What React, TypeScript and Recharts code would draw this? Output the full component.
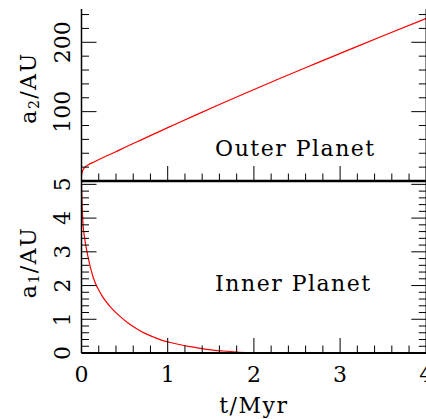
import React from 'react';
import { LineChart, Line, XAxis, YAxis, ReferenceDot } from 'recharts';

const FONT = '"DejaVu Serif", serif';

// Outer planet semi-major axis a2 (AU) vs time (Myr)
const outerTime = [0, 0.003, 0.01, 0.02, 0.037, 0.075, 0.15, 0.27, 0.385, 0.52, 0.64, 0.73, 0.83, 0.92, 1.02, 1.12, 1.33, 1.6, 1.9, 2.3, 2.7, 3.1, 3.5, 4.0];
const outerA = [8, 10.5, 13.5, 16.5, 19.4, 23, 27.8, 35, 41.4, 49.5, 56.3, 61.5, 67.2, 72.3, 78, 83.6, 95.3, 110.2, 126.5, 147.8, 168.5, 189, 209.5, 234.5];

// Inner planet semi-major axis a1 (AU) vs time (Myr)
const innerTime = [0, 0.004, 0.01, 0.017, 0.037, 0.075, 0.133, 0.23, 0.345, 0.44, 0.54, 0.64, 0.73, 0.83, 0.92, 1.02, 1.12, 1.26, 1.33, 1.45, 1.64, 1.8, 1.95, 2.2, 2.5, 3.0, 3.5, 4.0];
const innerA = [5.0, 4.6, 4.2, 3.85, 3.4, 2.86, 2.26, 1.73, 1.34, 1.1, 0.89, 0.72, 0.59, 0.48, 0.39, 0.32, 0.26, 0.19, 0.16, 0.11, 0.06, 0.03, 0.015, 0.005, 0.001, 0, 0, 0];

// Axes
const xDomain = [0, 4];
const xTicks = [0, 0.2, 0.4, 0.6, 0.8, 1, 1.2, 1.4, 1.6, 1.8, 2, 2.2, 2.4, 2.6, 2.8, 3, 3.2, 3.4, 3.6, 3.8, 4];
const xMajorTicks = [0, 1, 2, 3, 4];
const xTickLabels = ['0', '1', '2', '3', '4'];

const outerDomain = [0, 248];
const outerYTicks = [0, 20, 40, 60, 80, 100, 120, 140, 160, 180, 200, 220, 240];
const outerYMajor = [100, 200];
const outerYLabels = ['100', '200'];

const innerDomain = [0, 5.1];
const innerYTicks = [0, 0.2, 0.4, 0.6, 0.8, 1, 1.2, 1.4, 1.6, 1.8, 2, 2.2, 2.4, 2.6, 2.8, 3, 3.2, 3.4, 3.6, 3.8, 4, 4.2, 4.4, 4.6, 4.8, 5];
const innerYMajor = [0, 1, 2, 3, 4, 5];
const innerYLabels = ['0', '1', '2', '3', '4', '5'];

// Annotations (data coordinates)
const outerNote = { t: 1.55, a: 36.5, text: 'Outer Planet' };
const innerNote = { t: 1.55, a: 1.85, text: 'Inner Planet' };

const outerRows = outerTime.map((t, i) => ({ t, a: outerA[i] }));
const innerRows = innerTime.map((t, i) => ({ t, a: innerA[i] }));

const W = 440;
const LEFT_W = 81.5;
const RIGHT_W = 13.7;
const MAJOR_LEN = 15;
const MINOR_LEN = 7.5;

const findIdx = (v: number, majors: number[]) => majors.findIndex((m) => Math.abs(m - v) < 1e-6);

function xTickFactory(inward: number, labels: string[] | null) {
  return (props: any) => {
    const { x, y, payload } = props;
    const v = Number(payload.value);
    const idx = findIdx(v, xMajorTicks);
    const len = idx >= 0 ? MAJOR_LEN : MINOR_LEN;
    return (
      <g>
        <line x1={x} x2={x} y1={y} y2={y + inward * len} stroke="#000" strokeWidth={1} />
        {labels && idx >= 0 ? (
          <text x={x} y={y + 29} textAnchor="middle" fontFamily={FONT} fontSize={22} fill="#000">
            {labels[idx]}
          </text>
        ) : null}
      </g>
    );
  };
}

function yTickFactory(inward: number, majors: number[], labels: string[] | null) {
  return (props: any) => {
    const { x, y, payload } = props;
    const v = Number(payload.value);
    const idx = findIdx(v, majors);
    const len = idx >= 0 ? MAJOR_LEN : MINOR_LEN;
    const lx = x - 11.5;
    return (
      <g>
        <line x1={x} x2={x + inward * len} y1={y} y2={y} stroke="#000" strokeWidth={1} />
        {labels && idx >= 0 ? (
          <text
            x={lx}
            y={y}
            transform={`rotate(-90 ${lx} ${y})`}
            textAnchor="middle"
            fontFamily={FONT}
            fontSize={22}
            fill="#000"
          >
            {labels[idx]}
          </text>
        ) : null}
      </g>
    );
  };
}

function yTitle(sub: string, offset: number) {
  return (props: any) => {
    const vb = props.viewBox || { x: 0, y: 0, width: 0, height: 0 };
    const cx = 36;
    const cy = vb.y + vb.height / 2 + offset;
    return (
      <text
        x={cx}
        y={cy}
        transform={`rotate(-90 ${cx} ${cy})`}
        textAnchor="middle"
        fontFamily={FONT}
        fontSize={22}
        letterSpacing={1.5}
        fill="#000"
      >
        a<tspan fontSize={14} dy={3}>{sub}</tspan>
        <tspan dy={-3}>/AU</tspan>
      </text>
    );
  };
}

const xTitle = (props: any) => {
  const vb = props.viewBox || { x: 0, y: 0, width: 0, height: 0 };
  return (
    <text
      x={vb.x + vb.width / 2}
      y={vb.y + 59.5}
      textAnchor="middle"
      fontFamily={FONT}
      fontSize={22}
      letterSpacing={1.5}
      fill="#000"
    >
      t/Myr
    </text>
  );
};

const noteLabel = (text: string) => (props: any) => {
  const vb = props.viewBox || { x: 0, y: 0 };
  return (
    <text x={vb.x} y={vb.y} textAnchor="start" fontFamily={FONT} fontSize={22} letterSpacing={1.5} fill="#000">
      {text}
    </text>
  );
};

export default function App() {
  return (
    <div
      style={{
        position: 'fixed',
        left: 0,
        top: 0,
        width: 426,
        height: 419,
        overflow: 'hidden',
        background: '#fff',
      }}
    >
      <div style={{ position: 'absolute', left: 0, top: 0 }}>
        <LineChart width={W} height={200} data={outerRows} margin={{ top: 9, right: 0, bottom: 0, left: 0 }}>
          <XAxis
            xAxisId="bottom"
            dataKey="t"
            type="number"
            domain={xDomain}
            ticks={xTicks}
            interval={0}
            height={19}
            tickSize={0}
            tickMargin={0}
            tickLine={false}
            axisLine={{ stroke: '#000', strokeWidth: 2.5 }}
            tick={xTickFactory(-1, null)}
            allowDataOverflow
          />
          <XAxis
            xAxisId="top"
            orientation="top"
            dataKey="t"
            type="number"
            domain={xDomain}
            ticks={xTicks}
            interval={0}
            height={0}
            tickSize={0}
            tickMargin={0}
            tickLine={false}
            axisLine={{ stroke: '#000', strokeWidth: 2 }}
            tick={xTickFactory(1, null)}
            allowDataOverflow
          />
          <YAxis
            yAxisId="left"
            type="number"
            domain={outerDomain}
            ticks={outerYTicks}
            interval={0}
            width={LEFT_W}
            tickSize={0}
            tickMargin={0}
            tickLine={false}
            axisLine={{ stroke: '#000', strokeWidth: 1.5 }}
            tick={yTickFactory(1, outerYMajor, outerYLabels)}
            label={yTitle('2', -7)}
            allowDataOverflow
          />
          <YAxis
            yAxisId="right"
            orientation="right"
            type="number"
            domain={outerDomain}
            ticks={outerYTicks}
            interval={0}
            width={RIGHT_W}
            tickSize={0}
            tickMargin={0}
            tickLine={false}
            axisLine={{ stroke: '#000', strokeWidth: 1.5 }}
            tick={yTickFactory(-1, outerYMajor, null)}
            allowDataOverflow
          />
          <Line
            xAxisId="bottom"
            yAxisId="left"
            dataKey="a"
            type="monotone"
            stroke="#ff0000"
            strokeWidth={1.2}
            dot={false}
            isAnimationActive={false}
          />
          <ReferenceDot
            xAxisId="bottom"
            yAxisId="left"
            x={outerNote.t}
            y={outerNote.a}
            r={0}
            fill="none"
            stroke="none"
            label={noteLabel(outerNote.text)}
          />
        </LineChart>
      </div>
      <div style={{ position: 'absolute', left: 0, top: 0 }}>
        <LineChart width={W} height={419} data={innerRows} margin={{ top: 181, right: 0, bottom: 0, left: 0 }}>
          <XAxis
            xAxisId="bottom"
            dataKey="t"
            type="number"
            domain={xDomain}
            ticks={xTicks}
            interval={0}
            height={66}
            tickSize={0}
            tickMargin={0}
            tickLine={false}
            axisLine={{ stroke: '#000', strokeWidth: 2 }}
            tick={xTickFactory(-1, xTickLabels)}
            label={xTitle}
            allowDataOverflow
          />
          <XAxis
            xAxisId="top"
            orientation="top"
            dataKey="t"
            type="number"
            domain={xDomain}
            ticks={xTicks}
            interval={0}
            height={0}
            tickSize={0}
            tickMargin={0}
            tickLine={false}
            axisLine={{ stroke: '#000', strokeWidth: 2.5 }}
            tick={xTickFactory(1, null)}
            allowDataOverflow
          />
          <YAxis
            yAxisId="left"
            type="number"
            domain={innerDomain}
            ticks={innerYTicks}
            interval={0}
            width={LEFT_W}
            tickSize={0}
            tickMargin={0}
            tickLine={false}
            axisLine={{ stroke: '#000', strokeWidth: 1.5 }}
            tick={yTickFactory(1, innerYMajor, innerYLabels)}
            label={yTitle('1', -4.5)}
            allowDataOverflow
          />
          <YAxis
            yAxisId="right"
            orientation="right"
            type="number"
            domain={innerDomain}
            ticks={innerYTicks}
            interval={0}
            width={RIGHT_W}
            tickSize={0}
            tickMargin={0}
            tickLine={false}
            axisLine={{ stroke: '#000', strokeWidth: 1.5 }}
            tick={yTickFactory(-1, innerYMajor, null)}
            allowDataOverflow
          />
          <Line
            xAxisId="bottom"
            yAxisId="left"
            dataKey="a"
            type="monotone"
            stroke="#ff0000"
            strokeWidth={1.2}
            dot={false}
            isAnimationActive={false}
          />
          <ReferenceDot
            xAxisId="bottom"
            yAxisId="left"
            x={innerNote.t}
            y={innerNote.a}
            r={0}
            fill="none"
            stroke="none"
            label={noteLabel(innerNote.text)}
          />
        </LineChart>
      </div>
    </div>
  );
}
